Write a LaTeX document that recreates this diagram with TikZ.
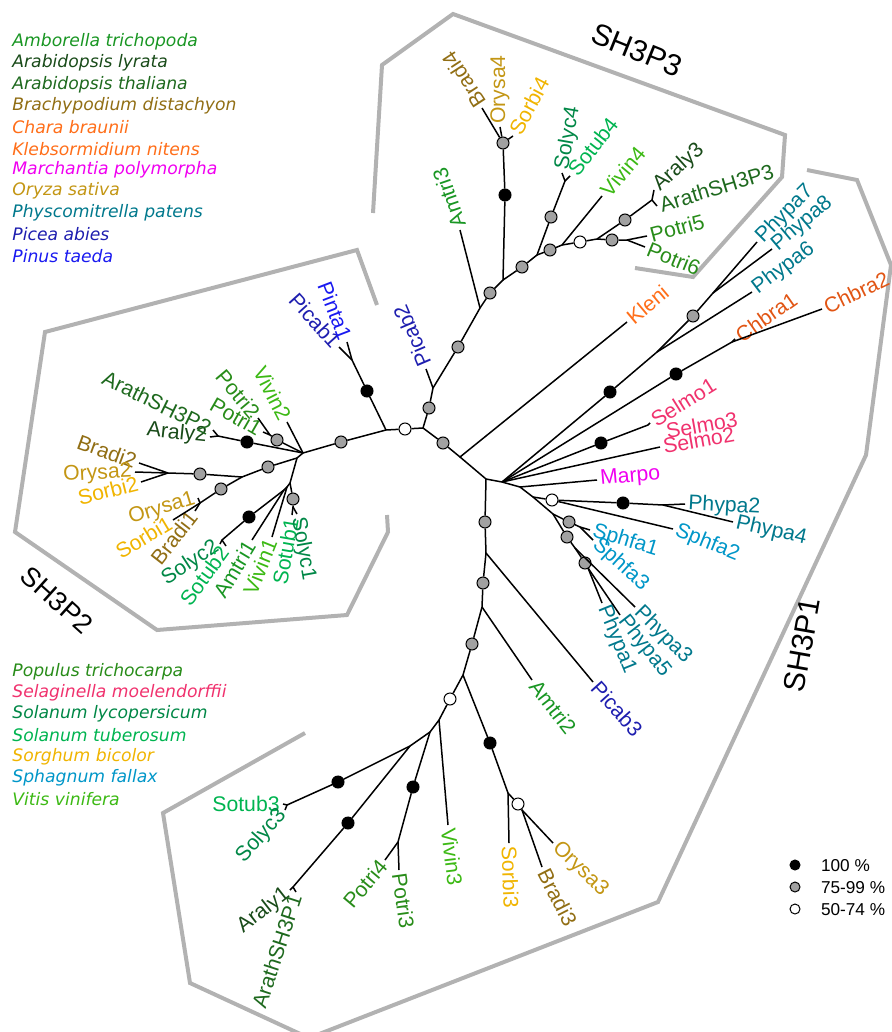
\documentclass[tikz,border=0pt]{standalone}
\usepackage{fontspec}
\setmainfont{Liberation Sans}
\newfontfamily\legendfont{DejaVu Sans}
\usepackage{tikz}

% species colours
\definecolor{amtri}{RGB}{25,150,35}
\definecolor{araly}{RGB}{25,75,25}
\definecolor{arath}{RGB}{30,105,30}
\definecolor{bradi}{RGB}{145,110,20}
\definecolor{chbra}{RGB}{225,85,20}
\definecolor{kleni}{RGB}{255,110,25}
\definecolor{marpo}{RGB}{240,0,240}
\definecolor{orysa}{RGB}{195,150,20}
\definecolor{phypa}{RGB}{0,120,140}
\definecolor{picab}{RGB}{30,30,175}
\definecolor{pinta}{RGB}{25,25,240}
\definecolor{potri}{RGB}{40,140,25}
\definecolor{selmo}{RGB}{240,50,110}
\definecolor{solyc}{RGB}{0,135,70}
\definecolor{sotub}{RGB}{0,180,80}
\definecolor{sorbi}{RGB}{240,180,0}
\definecolor{sphfa}{RGB}{0,150,200}
\definecolor{vivin}{RGB}{60,185,20}
\definecolor{hullgray}{RGB}{178,178,178}

\begin{document}
\begin{tikzpicture}[x=0.5pt,y=-0.5pt,
    branch/.style={line width=0.75pt},
    hull/.style={hullgray,line width=2pt},
    bs100/.style={circle,draw=black,line width=0.5pt,fill=black,inner sep=0pt,minimum size=6pt},
    bs75/.style={bs100,fill=black!37},
    bs50/.style={bs100,fill=white},
    leaf/.style={font=\fontsize{10.6}{12}\selectfont,inner sep=1.5pt},
    lr/.style={leaf,anchor=west},
    ll/.style={leaf,anchor=east},
    species/.style={font=\legendfont\itshape\fontsize{8.6}{10}\selectfont,anchor=west,inner sep=0pt},
    clade/.style={font=\fontsize{15}{17}\selectfont}]
  \useasboundingbox (0,0) rectangle (891,1032);

  % Gene family hulls
  \draw[hull] (373,213) -- (382,65) -- (453,14) -- (785,135) -- (782,177) -- (693,277) -- (635,268);
  \draw[hull] (377,305) -- (357,250) -- (45,332) -- (15,532) -- (157,630) -- (347,615) -- (388,532) -- (387,515);
  \draw[hull] (305,733) -- (163,813) -- (190,983) -- (309,1038) -- (658,902) -- (866,455) -- (891,265) -- (857,180) -- (807,170);
  \node[clade,rotate=-22] (h3) at (637,50) {SH3P3};
  \node[clade,rotate=-42,font=\fontsize{13.5}{15}\selectfont] (h2) at (57,600) {SH3P2};
  \node[clade,rotate=80] (h1) at (802,645) {SH3P1};

  % Internal nodes
  \coordinate (root) at (423,428);
  \coordinate (jpab2) at (433,388);
  \coordinate (jam3) at (480,308);
  \coordinate (jgr4) at (503,280);
  \coordinate (jsol4) at (537,255);
  \coordinate (jsol4b) at (565,181);
  \coordinate (jviv4) at (562,245);
  \coordinate (jar3) at (597,239);
  \coordinate (jar3b) at (652,200);
  \coordinate (jpo56) at (627,240);
  \coordinate (jpine) at (386,430);
  \coordinate (jpine2) at (352,360);
  \coordinate (j2) at (303,453);
  \coordinate (jpo12) at (270,435);
  \coordinate (jar2) at (218,436);
  \coordinate (j3) at (297,458);
  \coordinate (j4) at (242,477);
  \coordinate (jgr2) at (168,473);
  \coordinate (jgr1) at (200,503);
  \coordinate (j5) at (290,483);
  \coordinate (jst1) at (293,507);
  \coordinate (j6) at (287,487);
  \coordinate (j7) at (284,490);
  \coordinate (jsol2) at (222,540);
  \coordinate (jkl) at (460,457);
  \coordinate (jmain) at (486,479);
  \coordinate (jland) at (502,482);
  \coordinate (jph6) at (657,352);
  \coordinate (jph78) at (713,293);
  \coordinate (jch) at (732,342);
  \coordinate (jse) at (648,425);
  \coordinate (jm) at (520,487);
  \coordinate (jb) at (533,497);
  \coordinate (jph24) at (663,505);
  \coordinate (js) at (553,514);
  \coordinate (jsf) at (580,527);
  \coordinate (jpy) at (575,548);
  \coordinate (jpy2) at (588,568);
  \coordinate (jpc3) at (486,553);
  \coordinate (jam2) at (482,607);
  \coordinate (jb1) at (463,675);
  \coordinate (jv3) at (439,720);
  \coordinate (jpo34) at (430,732);
  \coordinate (jpo3) at (398,842);
  \coordinate (jso3) at (410,746);
  \coordinate (jso3b) at (287,805);
  \coordinate (jar1) at (293,887);
  \coordinate (jgr3) at (508,793);
  \coordinate (jgr3b) at (522,810);

  % Bootstrap support
  \node[bs75] (s1) at (429,408) {};
  \node[bs75] (s2) at (458,347) {};
  \node[bs75] (s3) at (490,293) {};
  \node[bs100] (s4) at (505,195) {};
  \node[bs75] (s5) at (503,143) {};
  \node[bs75] (s6) at (522,267) {};
  \node[bs75] (s7) at (551,217) {};
  \node[bs75] (s8) at (550,250) {};
  \node[bs50] (s9) at (580,242) {};
  \node[bs75] (s10) at (625,220) {};
  \node[bs75] (s11) at (612,240) {};
  \node[bs50] (s12) at (405,429) {};
  \node[bs100] (s13) at (367,391) {};
  \node[bs75] (s14) at (341,442) {};
  \node[bs75] (s15) at (277,440) {};
  \node[bs100] (s16) at (247,442) {};
  \node[bs75] (s17) at (268,467) {};
  \node[bs75] (s18) at (200,474) {};
  \node[bs75] (s19) at (221,489) {};
  \node[bs75] (s20) at (293,499) {};
  \node[bs100] (s21) at (249,517) {};
  \node[bs75] (s22) at (443,443) {};
  \node[bs100] (s23) at (610,392) {};
  \node[bs75] (s24) at (693,316) {};
  \node[bs100] (s25) at (676,374) {};
  \node[bs100] (s26) at (601,443) {};
  \node[bs50] (s27) at (552,500) {};
  \node[bs100] (s28) at (623,503) {};
  \node[bs75] (s29) at (569,522) {};
  \node[bs75] (s30) at (567,537) {};
  \node[bs75] (s31) at (585,563) {};
  \node[bs75] (s32) at (485,522) {};
  \node[bs75] (s33) at (483,583) {};
  \node[bs75] (s34) at (472,644) {};
  \node[bs50] (s35) at (450,699) {};
  \node[bs100] (s36) at (413,787) {};
  \node[bs100] (s37) at (338,782) {};
  \node[bs100] (s38) at (348,823) {};
  \node[bs100] (s39) at (490,743) {};
  \node[bs50] (s40) at (518,804) {};

  % SH3P3 leaves
  \node[lr,rotate=109,amtri] (amtri3) at (460,230) {Amtri3};
  \node[lr,rotate=123,bradi] (bradi4) at (482,108) {Bradi4};
  \node[lr,rotate=90,orysa] (orysa4) at (500,127) {Orysa4};
  \node[lr,rotate=62,sorbi] (sorbi4) at (513,136) {Sorbi4};
  \node[lr,rotate=80,solyc] (solyc4) at (562,173) {Solyc4};
  \node[lr,rotate=52,sotub] (sotub4) at (570,176) {Sotub4};
  \node[lr,rotate=50,vivin] (vivin4) at (602,196) {Vivin4};
  \node[lr,rotate=42,araly] (araly3) at (654,190) {Araly3};
  \node[lr,rotate=17,arath] (arath3) at (657,206) {ArathSH3P3};
  \node[lr,rotate=15,potri] (potri5) at (647,236) {Potri5};
  \node[lr,rotate=-22,potri] (potri6) at (645,247) {Potri6};

  % Conifer leaves
  \node[ll,rotate=-48,picab] (picab1) at (339,347) {Picab1};
  \node[ll,rotate=-69,pinta] (pinta1) at (347,342) {Pinta1};
  \node[lr,rotate=113,picab] (picab2) at (426,369) {Picab2};

  % SH3P2 leaves
  \node[ll,rotate=-63,vivin] (vivin2) at (287,422) {Vivin2};
  \node[ll,rotate=-30,potri] (potri1) at (263,432) {Potri1};
  \node[ll,rotate=-50,potri] (potri2) at (258,418) {Potri2};
  \node[ll,rotate=-6,araly] (araly2) at (210,437) {Araly2};
  \node[ll,rotate=-26,arath] (arath2) at (213,430) {ArathSH3P2};
  \node[ll,rotate=-20,bradi] (bradi2) at (139,463) {Bradi2};
  \node[ll,rotate=3,orysa] (orysa2) at (135,472) {Orysa2};
  \node[ll,rotate=14,sorbi] (sorbi2) at (141,482) {Sorbi2};
  \node[ll,rotate=17,orysa] (orysa1) at (198,498) {Orysa1};
  \node[ll,rotate=52,bradi] (bradi1) at (195,511) {Bradi1};
  \node[ll,rotate=31,sorbi] (sorbi1) at (173,520) {Sorbi1};
  \node[ll,rotate=33,solyc] (solyc2) at (220,544) {Solyc2};
  \node[ll,rotate=54,sotub] (sotub2) at (226,546) {Sotub2};
  \node[ll,rotate=59,amtri] (amtri1) at (252,540) {Amtri1};
  \node[ll,rotate=68,vivin] (vivin1) at (272,537) {Vivin1};
  \node[ll,rotate=80,sotub] (sotub1) at (292,515) {Sotub1};
  \node[lr,rotate=-80,solyc] (solyc1) at (297,514) {Solyc1};

  % SH3P1 leaves
  \node[lr,rotate=40,kleni] (kleni) at (627,322) {Kleni};
  \node[lr,rotate=45,phypa] (phypa7) at (757,242) {Phypa7};
  \node[lr,rotate=40,phypa] (phypa8) at (772,249) {Phypa8};
  \node[lr,rotate=37,phypa] (phypa6) at (752,292) {Phypa6};
  \node[lr,rotate=35,chbra] (chbra1) at (735,339) {Chbra1};
  \node[lr,rotate=26,chbra] (chbra2) at (822,309) {Chbra2};
  \node[lr,rotate=32,selmo] (selmo1) at (650,423) {Selmo1};
  \node[lr,rotate=10,selmo] (selmo3) at (663,432) {Selmo3};
  \node[lr,rotate=10,selmo] (selmo2) at (660,447) {Selmo2};
  \node[lr,rotate=5,marpo] (marpo) at (597,480) {Marpo};
  \node[lr,rotate=-3,phypa] (phypa2) at (685,504) {Phypa2};
  \node[lr,rotate=-13,phypa] (phypa4) at (733,522) {Phypa4};
  \node[lr,rotate=-22,sphfa] (sphfa2) at (673,529) {Sphfa2};
  \node[lr,rotate=-17,sphfa] (sphfa1) at (590,530) {Sphfa1};
  \node[lr,rotate=-42,sphfa] (sphfa3) at (593,540) {Sphfa3};
  \node[lr,rotate=-45,phypa] (phypa3) at (635,607) {Phypa3};
  \node[lr,rotate=-52,phypa] (phypa5) at (620,615) {Phypa5};
  \node[lr,rotate=-68,phypa] (phypa1) at (602,603) {Phypa1};
  \node[lr,rotate=-48,picab] (picab3) at (593,682) {Picab3};
  \node[lr,rotate=-52,amtri] (amtri2) at (532,680) {Amtri2};
  \node[lr,rotate=-83,vivin] (vivin3) at (448,825) {Vivin3};
  \node[ll,rotate=50,potri] (potri4) at (385,860) {Potri4};
  \node[lr,rotate=-82,potri] (potri3) at (399,870) {Potri3};
  \node[ll,rotate=0,sotub] (sotub3) at (283,804) {Sotub3};
  \node[ll,rotate=48,solyc] (solyc3) at (285,810) {Solyc3};
  \node[ll,rotate=38,araly] (araly1) at (290,890) {Araly1};
  \node[ll,rotate=72,arath] (arath1) at (296,892) {ArathSH3P1};
  \node[lr,rotate=-88,sorbi] (sorbi3) at (509,843) {Sorbi3};
  \node[lr,rotate=-63,bradi] (bradi3) at (542,867) {Bradi3};
  \node[lr,rotate=-44,orysa] (orysa3) at (553,843) {Orysa3};

  % Branches, SH3P3 and conifers
  \draw[branch] (root) -- (s1) -- (jpab2) -- (picab2.west);
  \draw[branch] (jpab2) -- (s2) -- (jam3) -- (amtri3.west);
  \draw[branch] (jam3) -- (s3) -- (jgr4) -- (s4) -- (s5);
  \draw[branch] (s5) -- (bradi4.west);
  \draw[branch] (s5) -- (orysa4.west);
  \draw[branch] (s5) -- (sorbi4.west);
  \draw[branch] (jgr4) -- (s6) -- (jsol4) -- (s7) -- (jsol4b) -- (solyc4.west);
  \draw[branch] (jsol4b) -- (sotub4.west);
  \draw[branch] (jsol4) -- (s8) -- (jviv4) -- (vivin4.west);
  \draw[branch] (jviv4) -- (s9) -- (jar3) -- (s10) -- (jar3b) -- (araly3.west);
  \draw[branch] (jar3b) -- (arath3.west);
  \draw[branch] (jar3) -- (s11) -- (jpo56) -- (potri5.west);
  \draw[branch] (jpo56) -- (potri6.west);
  \draw[branch] (root) -- (s12) -- (jpine) -- (s13) -- (jpine2) -- (picab1.east);
  \draw[branch] (jpine2) -- (pinta1.east);

  % Branches, SH3P2
  \draw[branch] (jpine) -- (s14) -- (j2) -- (vivin2.east);
  \draw[branch] (j2) -- (s15) -- (jpo12) -- (potri1.east);
  \draw[branch] (jpo12) -- (potri2.east);
  \draw[branch] (j2) -- (s16) -- (jar2) -- (araly2.east);
  \draw[branch] (jar2) -- (arath2.east);
  \draw[branch] (j2) -- (j3) -- (s17) -- (j4) -- (s18) -- (jgr2) -- (bradi2.east);
  \draw[branch] (jgr2) -- (orysa2.east);
  \draw[branch] (jgr2) -- (sorbi2.east);
  \draw[branch] (j4) -- (s19) -- (jgr1) -- (orysa1.east);
  \draw[branch] (jgr1) -- (bradi1.east);
  \draw[branch] (jgr1) -- (sorbi1.east);
  \draw[branch] (j3) -- (j5) -- (s20) -- (jst1) -- (sotub1.east);
  \draw[branch] (jst1) -- (solyc1.west);
  \draw[branch] (j5) -- (j6) -- (vivin1.east);
  \draw[branch] (j6) -- (j7) -- (amtri1.east);
  \draw[branch] (j7) -- (s21) -- (jsol2) -- (solyc2.east);
  \draw[branch] (jsol2) -- (sotub2.east);

  % Branches, SH3P1
  \draw[branch] (root) -- (s22) -- (jkl) -- (kleni.west);
  \draw[branch] (jkl) -- (jmain) -- (jland) -- (s23) -- (jph6) -- (phypa6.west);
  \draw[branch] (jph6) -- (s24) -- (jph78) -- (phypa7.west);
  \draw[branch] (jph78) -- (phypa8.west);
  \draw[branch] (jland) -- (s25) -- (jch) -- (chbra1.west);
  \draw[branch] (jch) -- (chbra2.west);
  \draw[branch] (jland) -- (s26) -- (jse) -- (selmo1.west);
  \draw[branch] (jland) -- (selmo2.west);
  \draw[branch] (jland) -- (jm) -- (marpo.west);
  \draw[branch] (jm) -- (jb) -- (s27) -- (s28) -- (jph24) -- (phypa2.west);
  \draw[branch] (jph24) -- (phypa4.west);
  \draw[branch] (s27) -- (sphfa2.west);
  \draw[branch] (jb) -- (js) -- (s29) -- (jsf) -- (sphfa1.west);
  \draw[branch] (jsf) -- (sphfa3.west);
  \draw[branch] (js) -- (s30) -- (jpy) -- (phypa3.west);
  \draw[branch] (jpy) -- (s31) -- (jpy2) -- (phypa1.west);
  \draw[branch] (jpy2) -- (phypa5.west);
  \draw[branch] (jmain) -- (s32) -- (jpc3) -- (picab3.west);
  \draw[branch] (jpc3) -- (s33) -- (jam2) -- (amtri2.west);
  \draw[branch] (jam2) -- (s34) -- (jb1) -- (s35) -- (jv3) -- (vivin3.west);
  \draw[branch] (jv3) -- (jpo34) -- (s36) -- (jpo3) -- (potri4.east);
  \draw[branch] (jpo3) -- (potri3.west);
  \draw[branch] (jpo34) -- (jso3) -- (s37) -- (jso3b) -- (sotub3.east);
  \draw[branch] (jso3b) -- (solyc3.east);
  \draw[branch] (jso3) -- (s38) -- (jar1) -- (araly1.east);
  \draw[branch] (jar1) -- (arath1.east);
  \draw[branch] (jb1) -- (s39) -- (jgr3) -- (sorbi3.west);
  \draw[branch] (jgr3) -- (s40) -- (jgr3b) -- (bradi3.west);
  \draw[branch] (jgr3b) -- (orysa3.west);

  % Species key
  \node[species,amtri] (k1) at (12,42) {Amborella trichopoda};
  \node[species,araly] (k2) at (12,63) {Arabidopsis lyrata};
  \node[species,arath] (k3) at (12,85) {Arabidopsis thaliana};
  \node[species,bradi] (k4) at (12,106) {Brachypodium distachyon};
  \node[species,kleni] (k5) at (12,127) {Chara braunii};
  \node[species,kleni] (k6) at (12,149) {Klebsormidium nitens};
  \node[species,marpo] (k7) at (12,170) {Marchantia polymorpha};
  \node[species,orysa] (k8) at (12,191) {Oryza sativa};
  \node[species,phypa] (k9) at (12,213) {Physcomitrella patens};
  \node[species,picab] (k10) at (12,234) {Picea abies};
  \node[species,pinta] (k11) at (12,256) {Pinus taeda};
  \node[species,potri] (k12) at (12,672) {Populus trichocarpa};
  \node[species,selmo] (k13) at (12,693) {Selaginella moelendorffii};
  \node[species,solyc] (k14) at (12,714) {Solanum lycopersicum};
  \node[species,sotub] (k15) at (12,735) {Solanum tuberosum};
  \node[species,sorbi] (k16) at (12,757) {Sorghum bicolor};
  \node[species,sphfa] (k17) at (12,778) {Sphagnum fallax};
  \node[species,vivin] (k18) at (12,799) {Vitis vinifera};

  % Support key
  \node[bs100,minimum size=5pt] (key100) at (795,865) {};
  \node[bs75,minimum size=5pt] (key75) at (795,887) {};
  \node[bs50,minimum size=5pt] (key50) at (795,909) {};
  \node[anchor=west,font=\fontsize{8.6}{10}\selectfont] (t100) at (814,866) {100 \%};
  \node[anchor=west,font=\fontsize{8.6}{10}\selectfont] (t75) at (814,888) {75-99 \%};
  \node[anchor=west,font=\fontsize{8.6}{10}\selectfont] (t50) at (814,910) {50-74 \%};
\end{tikzpicture}
\end{document}
